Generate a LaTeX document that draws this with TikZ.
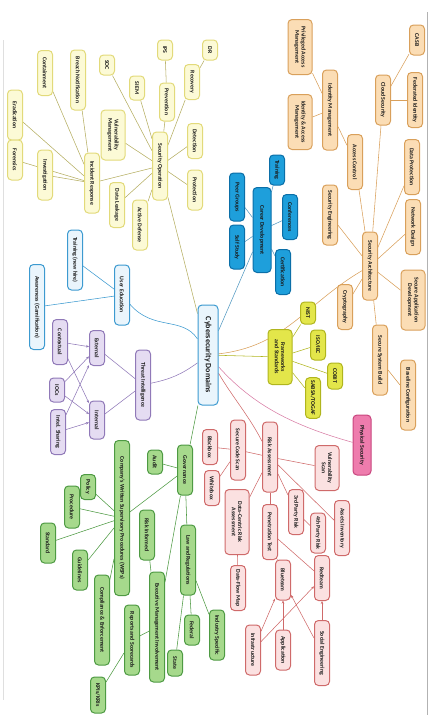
\documentclass[tikz,border=0pt]{standalone}
\usepackage{fontspec}
\setmainfont{Carlito}
\usetikzlibrary{arrows.meta, backgrounds}

\definecolor{ornFill}{HTML}{FBDDB5}
\definecolor{ornLine}{HTML}{D9A05B}
\definecolor{carFill}{HTML}{1E9FDB}
\definecolor{carLine}{HTML}{0B6FA8}
\definecolor{fwFill}{HTML}{E3E64A}
\definecolor{fwLine}{HTML}{B0B51E}
\definecolor{phyFill}{HTML}{EE7CAD}
\definecolor{phyLine}{HTML}{C8467E}
\definecolor{rskFill}{HTML}{FBE1E1}
\definecolor{rskLine}{HTML}{CF6A6A}
\definecolor{govFill}{HTML}{A6D98C}
\definecolor{govLine}{HTML}{4E9A43}
\definecolor{tiFill}{HTML}{E5DCF2}
\definecolor{tiLine}{HTML}{9079B8}
\definecolor{ueFill}{HTML}{EAF5FC}
\definecolor{ueLine}{HTML}{3C9AD0}
\definecolor{opsFill}{HTML}{FCFAD6}
\definecolor{opsLine}{HTML}{E2DA7A}

\tikzset{
  mm/.style={draw, rotate=-90, rounded corners=4pt, line width=1pt, align=center,
    font=\fontsize{5.8}{6.4}\selectfont\bfseries, inner xsep=3pt, inner ysep=2pt,
    minimum height=15pt, text=black!90},
  two/.style={minimum height=24pt},
  orn/.style={mm, fill=ornFill, draw=ornLine},
  car/.style={mm, fill=carFill, draw=carLine},
  fw/.style={mm, fill=fwFill, draw=fwLine},
  phy/.style={mm, fill=phyFill, draw=phyLine},
  rsk/.style={mm, fill=rskFill, draw=rskLine},
  gov/.style={mm, fill=govFill, draw=govLine},
  ti/.style={mm, fill=tiFill, draw=tiLine},
  ue/.style={mm, fill=ueFill, draw=ueLine},
  ops/.style={mm, fill=opsFill, draw=opsLine},
  link/.style={line width=0.55pt},
  tip/.style={-{Stealth[length=3pt,width=2.5pt]}}
}

\begin{document}
\begin{tikzpicture}[x=1pt,y=1pt]
\useasboundingbox (0,0) rectangle (435,-715);
% scan edges
\draw[gray!60, line width=0.8pt] (427,-12)--(427,-715);
\draw[gray!25, line width=0.5pt] (3,-40)--(3,-700);

% centre
\node[mm, fill=ueFill, draw=ueLine, minimum width=100pt, minimum height=20pt,
  font=\fontsize{8}{9}\selectfont\bfseries] (cyber) at (208,-355) {Cybersecurity Domains};

% security architecture
\node[orn, minimum width=68pt] (secarch) at (370,-266) {Security Architecture};
\node[orn, minimum width=50pt] (cloud) at (383,-100) {Cloud Security};
\node[orn, minimum width=30pt] (casb) at (417,-40) {CASB};
\node[orn, minimum width=55pt] (fedid) at (415,-100) {Federated Identity};
\node[orn, two, minimum width=55pt] (pam) at (300,-47) {Privileged Access\\Management};
\node[orn, two, minimum width=55pt] (iam) at (300,-122) {Identity \& Access\\Management};
\node[orn, minimum width=80pt] (idmgmt) at (330,-110) {Identity Management};
\node[orn, minimum width=55pt] (access) at (355,-162) {Access Control};
\node[orn, minimum width=55pt] (dataprot) at (412,-167) {Data Protection};
\node[orn, minimum width=60pt] (seceng) at (330,-215) {Security Engineering};
\node[orn, minimum width=55pt] (netdesign) at (413,-227) {Network Design};
\node[orn, two, minimum width=60pt] (secapp) at (413,-300) {Secure Application\\Development};
\node[orn, minimum width=45pt] (crypto) at (345,-307) {Cryptography};
\node[orn, minimum width=70pt] (secsys) at (380,-360) {Secure System Build};
\node[orn, minimum width=70pt] (baseline) at (408,-395) {Baseline Configuration};

% career development
\node[car, minimum width=85pt, minimum height=18pt] (career) at (262,-230) {Career Development};
\node[car, minimum width=30pt] (training) at (277,-170) {Training};
\node[car, minimum width=48pt] (peer) at (237,-197) {Peer Groups};
\node[car, minimum width=45pt] (conf) at (290,-217) {Conferences};
\node[car, minimum width=44pt] (selfstudy) at (237,-247) {Self Study};
\node[car, minimum width=45pt] (cert) at (283,-272) {Certification};

% frameworks and standards
\node[fw, two, minimum width=55pt] (frame) at (280,-357) {Frameworks\\and Standards};
\node[fw, minimum width=22pt] (nist) at (308,-313) {NIST};
\node[fw, minimum width=30pt] (iso) at (318,-345) {ISO/IEC};
\node[fw, minimum width=26pt] (cobit) at (335,-376) {COBIT};
\node[fw, minimum width=36pt] (sabsa) at (313,-398) {SABSA/TOGAF};

\node[phy, minimum width=60pt, minimum height=18pt] (phys) at (362,-445) {Physical Security};

% risk assessment
\node[rsk, minimum width=70pt] (risk) at (270,-457) {Risk Assessment};
\node[rsk, minimum width=60pt] (codescan) at (238,-450) {Secure Code Scan};
\node[rsk, minimum width=35pt] (blackbox) at (210,-447) {Blackbox};
\node[rsk, minimum width=35pt] (whitebox) at (212,-488) {Whitebox};
\node[rsk, two, minimum width=45pt] (vulnscan) at (327,-468) {Vulnerability\\Scan};
\node[rsk, two, minimum width=65pt] (datacentric) at (237,-522) {Data-Centric Risk\\Assessment};
\node[rsk, minimum width=45pt] (third) at (296,-512) {3rd Party Risk};
\node[rsk, minimum width=40pt] (fourth) at (318,-533) {4th Party Risk};
\node[rsk, minimum width=55pt] (assets) at (342,-528) {Assets Inventory};
\node[rsk, minimum width=55pt] (pentest) at (270,-532) {Penetration Test};
\node[rsk, minimum width=45pt] (dataflow) at (238,-588) {Data-Flow Map};
\node[rsk, minimum width=40pt] (blueteam) at (283,-580) {Blueteam};
\node[rsk, minimum width=45pt] (redteam) at (322,-578) {Redteam};
\node[rsk, minimum width=50pt] (infra) at (253,-650) {Infrastructure};
\node[rsk, minimum width=40pt] (app) at (283,-650) {Application};
\node[rsk, minimum width=65pt] (social) at (322,-653) {Social Engineering};

% governance
\node[gov, minimum width=50pt] (govern) at (185,-470) {Governance};
\node[gov, minimum width=24pt] (audit) at (155,-462) {Audit};
\node[gov, minimum width=155pt] (wsp) at (122,-518) {Company's Written Supervisory Procedures (WSPs)};
\node[gov, minimum width=25pt] (policy) at (88,-487) {Policy};
\node[gov, minimum width=42pt] (procedure) at (72,-507) {Procedure};
\node[gov, minimum width=40pt] (standard) at (48,-543) {Standard};
\node[gov, minimum width=40pt] (guide) at (80,-570) {Guidelines};
\node[gov, minimum width=50pt] (riskinf) at (147,-535) {Risk Informed};
\node[gov, minimum width=70pt] (lawreg) at (188,-560) {Law and Regulations};
\node[gov, minimum width=110pt] (exec) at (157,-627) {Executive Management Involvement};
\node[gov, minimum width=90pt] (comply) at (102,-620) {Compliance \& Enforcement};
\node[gov, minimum width=70pt] (reports) at (132,-640) {Reports and Scorecards};
\node[gov, minimum width=36pt] (kpi) at (98,-695) {KPIs/KRIs};
\node[gov, minimum width=30pt] (federal) at (192,-630) {Federal};
\node[gov, minimum width=26pt] (state) at (175,-663) {State};
\node[gov, minimum width=50pt] (industry) at (217,-635) {Industry Specific};

% threat intelligence
\node[ti, minimum width=70pt] (threat) at (143,-385) {Threat Intelligence};
\node[ti, minimum width=35pt] (external) at (97,-348) {External};
\node[ti, minimum width=38pt] (internal) at (97,-420) {Internal};
\node[ti, minimum width=45pt] (context) at (60,-342) {Contextual};
\node[ti, minimum width=24pt] (iocs) at (57,-390) {IOCs};
\node[ti, minimum width=45pt] (sharing) at (58,-432) {Intel. Sharing};

% user education
\node[ue, minimum width=60pt] (usered) at (122,-295) {User Education};
\node[ue, minimum width=60pt] (newhire) at (75,-260) {Training (new hire)};
\node[ue, minimum width=85pt] (aware) at (37,-307) {Awareness (Gamification)};

% security operation
\node[ops, minimum width=68pt] (secops) at (160,-166) {Security Operation};
\node[ops, minimum width=20pt] (dr) at (210,-50) {DR};
\node[ops, minimum width=20pt] (ips) at (165,-50) {IPS};
\node[ops, minimum width=35pt] (recovery) at (192,-82) {Recovery};
\node[ops, minimum width=38pt] (prevent) at (167,-102) {Prevention};
\node[ops, minimum width=20pt] (soc) at (107,-65) {SOC};
\node[ops, minimum width=24pt] (siem) at (137,-88) {SIEM};
\node[ops, minimum width=60pt] (breach) at (78,-80) {Breach Notification};
\node[ops, minimum width=45pt] (contain) at (45,-73) {Containment};
\node[ops, minimum width=50pt] (eradic) at (15,-115) {Eradication};
\node[ops, minimum width=40pt] (forens) at (15,-160) {Forensics};
\node[ops, minimum width=50pt] (investig) at (45,-175) {Investigation};
\node[ops, two, minimum width=50pt] (vulnmgmt) at (113,-135) {Vulnerability\\Management};
\node[ops, minimum width=35pt] (detect) at (195,-141) {Detection};
\node[ops, minimum width=40pt] (protect) at (195,-190) {Protection};
\node[ops, minimum width=60pt] (incident) at (92,-183) {Incident Response};
\node[ops, minimum width=45pt] (leak) at (117,-205) {Data Leakage};
\node[ops, minimum width=50pt] (active) at (140,-225) {Active Defense};

\begin{pgfonlayer}{background}
% main branches
\draw[link, ornLine] (cyber) to[out=25,in=220] (secarch);
\draw[link, carLine!70] (cyber)--(career);
\draw[link, fwLine] (cyber)--(frame);
\draw[link, phyLine!70] (cyber) to[out=-30,in=190] (phys);
\draw[link, rskLine] (cyber) to[out=-40,in=130] (risk);
\draw[link, govLine] (cyber)--(govern);
\draw[link, tiLine] (cyber) to[bend left=12] (threat);
\draw[link, ueLine] (cyber) to[out=150,in=-20] (usered);
\draw[link, opsLine!80!black] (cyber)--(secops);

\draw[link, ornLine] (secarch)--(cloud);
\draw[link, ornLine] (cloud)--(casb);
\draw[link, ornLine] (cloud)--(fedid);
\draw[link, ornLine] (secarch)--(access);
\draw[link, ornLine] (access)--(idmgmt);
\draw[link, ornLine] (idmgmt)--(pam);
\draw[link, ornLine] (idmgmt)--(iam);
\draw[link, ornLine] (secarch)--(dataprot);
\draw[link, ornLine] (secarch)--(seceng);
\draw[link, ornLine] (secarch)--(netdesign);
\draw[link, ornLine] (secarch)--(secapp);
\draw[link, ornLine] (secarch)--(crypto);
\draw[link, ornLine] (secarch)--(secsys);
\draw[link, ornLine] (secsys)--(baseline);

\draw[link, carLine!70] (career)--(training);
\draw[link, carLine!70] (career)--(peer);
\draw[link, carLine!70] (career)--(conf);
\draw[link, carLine!70] (career)--(selfstudy);
\draw[link, carLine!70] (career)--(cert);

\draw[link, fwLine] (frame)--(nist);
\draw[link, fwLine] (frame)--(iso);
\draw[link, fwLine] (frame)--(cobit);
\draw[link, fwLine] (frame)--(sabsa);

\draw[link, rskLine] (risk)--(codescan);
\draw[link, rskLine] (codescan)--(blackbox);
\draw[link, rskLine] (codescan)--(whitebox);
\draw[link, rskLine] (risk)--(vulnscan);
\draw[link, rskLine] (risk)--(datacentric);
\draw[link, rskLine] (datacentric)--(dataflow);
\draw[link, rskLine] (risk)--(third);
\draw[link, rskLine] (third)--(fourth);
\draw[link, rskLine] (risk)--(assets);
\draw[link, rskLine] (risk)--(pentest);
\draw[link, rskLine] (pentest)--(blueteam);
\draw[link, rskLine] (pentest)--(redteam);
\draw[link, rskLine, tip] (infra)--(blueteam);
\draw[link, rskLine, tip] (infra)--(redteam);
\draw[link, rskLine, tip] (app)--(blueteam);
\draw[link, rskLine, tip] (social)--(blueteam);
\draw[link, rskLine, tip] (social)--(redteam);

\draw[link, govLine] (govern)--(audit);
\draw[link, govLine] (govern)--(wsp);
\draw[link, govLine] (govern)--(lawreg);
\draw[link, govLine] (govern)--(exec);
\draw[link, govLine] (wsp)--(policy);
\draw[link, govLine] (wsp)--(procedure);
\draw[link, govLine] (wsp)--(standard);
\draw[link, govLine] (wsp)--(guide);
\draw[link, govLine] (wsp)--(comply);
\draw[link, govLine] (exec)--(riskinf);
\draw[link, govLine] (exec)--(reports);
\draw[link, govLine] (reports)--(kpi);
\draw[link, govLine] (lawreg)--(federal);
\draw[link, govLine] (lawreg)--(state);
\draw[link, govLine] (lawreg)--(industry);

\draw[link, tiLine] (threat)--(external);
\draw[link, tiLine] (threat)--(internal);
\draw[link, tiLine, tip] (context)--(external);
\draw[link, tiLine, tip] (context)--(internal);
\draw[link, tiLine, tip] (iocs)--(external);
\draw[link, tiLine, tip] (iocs)--(internal);
\draw[link, tiLine, tip] (sharing)--(external);
\draw[link, tiLine, tip] (sharing)--(internal);

\draw[link, ueLine] (usered)--(newhire);
\draw[link, ueLine] (usered)--(aware);

\draw[link, opsLine!80!black] (secops)--(detect);
\draw[link, opsLine!80!black] (secops)--(protect);
\draw[link, opsLine!80!black] (secops)--(prevent);
\draw[link, opsLine!80!black] (secops)--(recovery);
\draw[link, opsLine!80!black] (prevent)--(ips);
\draw[link, opsLine!80!black] (recovery)--(dr);
\draw[link, opsLine!80!black] (secops)--(siem);
\draw[link, opsLine!80!black] (secops)--(soc);
\draw[link, opsLine!80!black] (secops)--(vulnmgmt);
\draw[link, opsLine!80!black] (secops)--(incident);
\draw[link, opsLine!80!black] (secops)--(leak);
\draw[link, opsLine!80!black] (secops)--(active);
\draw[link, opsLine!80!black] (incident)--(breach);
\draw[link, opsLine!80!black] (incident)--(contain);
\draw[link, opsLine!80!black] (incident)--(eradic);
\draw[link, opsLine!80!black] (incident)--(forens);
\draw[link, opsLine!80!black] (incident)--(investig);
\end{pgfonlayer}
\end{tikzpicture}
\end{document}
